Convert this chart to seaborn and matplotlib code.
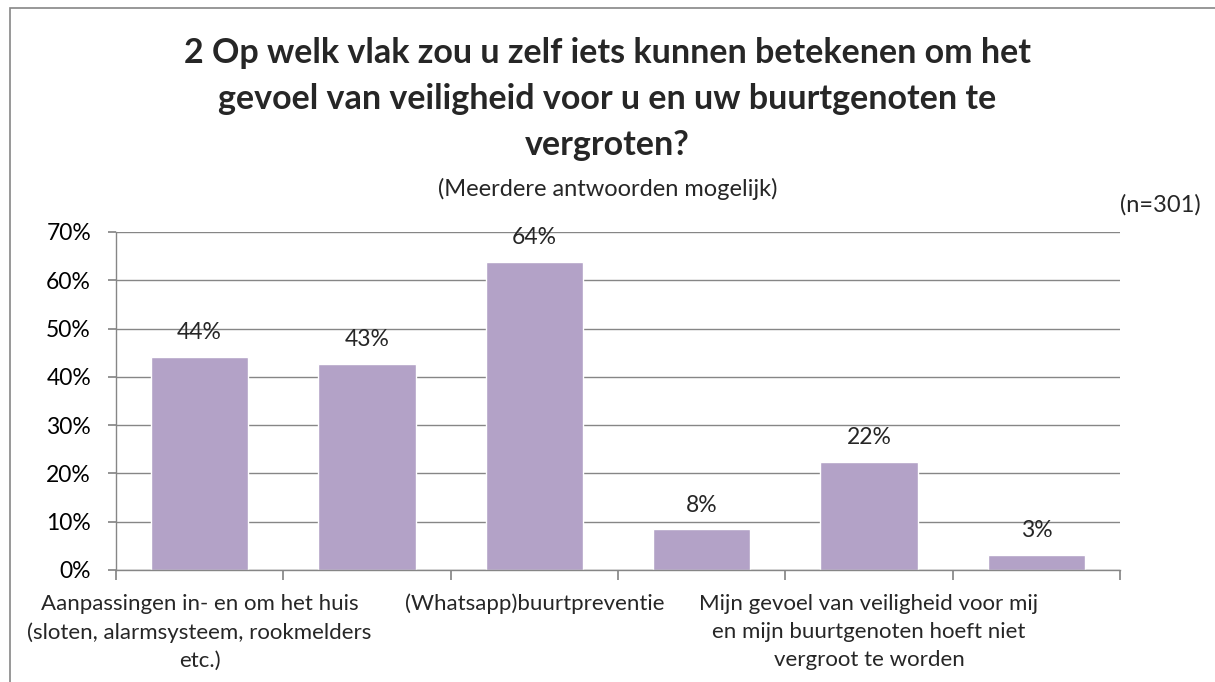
import numpy as np
import pandas as pd
import seaborn as sns
import matplotlib.pyplot as plt
from matplotlib.patches import Rectangle

# labels shown on the axis (Excel hides every other one)
labels = ["Aanpassingen in- en om het huis\n(sloten, alarmsysteem, rookmelders\netc.)",
          "",
          "(Whatsapp)buurtpreventie",
          "",
          "Mijn gevoel van veiligheid voor mij\nen mijn buurtgenoten hoeft niet\nvergroot te worden",
          ""]
values = [44.2, 42.6, 63.8, 8.4, 22.3, 3.1]
value_labels = ["44%", "43%", "64%", "8%", "22%", "3%"]
yticks = [0, 10, 20, 30, 40, 50, 60, 70]

sns.set_theme(style="white")
plt.rcParams['font.family'] = ['Lato', 'DejaVu Sans']

df = pd.DataFrame({"pos": np.arange(len(values)), "value": values})

fig = plt.figure(figsize=(12.15, 6.82), dpi=100)
ax = fig.add_axes([116 / 1215, 1 - 570 / 682, (1120 - 116) / 1215, (570 - 232) / 682])

sns.barplot(data=df, x="pos", y="value", color="#B3A2C7", saturation=1,
            width=0.58, ax=ax)

ax.set_ylim(0, 70)
ax.set_xlim(-0.5, len(values) - 0.5)
ax.set_yticks(yticks)
ax.set_yticklabels([f"{t}%" for t in yticks], fontsize=16.5, color="#000000")
ax.yaxis.grid(True, color="#868686", linewidth=1)
ax.set_axisbelow(True)

# tick marks at category boundaries, labels at centres
ax.set_xticks(np.arange(len(values) + 1) - 0.5)
ax.set_xticklabels([])
ax.set_xticks(np.arange(len(values)), minor=True)
ax.set_xticklabels(labels, minor=True, fontsize=16, linespacing=1.5, va="top")
ax.tick_params(axis="x", which="major", length=7, color="#868686", direction="out",
               bottom=True)
ax.tick_params(axis="x", which="minor", length=0, pad=17)
ax.tick_params(axis="y", length=6, color="#868686", direction="out", left=True, pad=12)

for side in ["top", "right"]:
    ax.spines[side].set_visible(False)
for side in ["left", "bottom"]:
    ax.spines[side].set_color("#868686")
    ax.spines[side].set_linewidth(1)
ax.set_xlabel("")
ax.set_ylabel("")

for p, v, t in zip(df["pos"], values, value_labels):
    ax.annotate(t, (p, v), xytext=(0, 10), textcoords="offset points",
                ha="center", va="bottom", fontsize=16.5)

fig.text(0.5, 1 - 99 / 682,
         "2 Op welk vlak zou u zelf iets kunnen betekenen om het\n"
         "gevoel van veiligheid voor u en uw buurtgenoten te\nvergroten?",
         ha="center", va="center", fontsize=24.5, fontweight="bold", linespacing=1.55)
fig.text(0.5, 1 - 189 / 682, "(Meerdere antwoorden mogelijk)",
         ha="center", va="center", fontsize=17)
fig.text(1160 / 1215, 1 - 205 / 682, "(n=301)", ha="center", va="center", fontsize=17)

fig.patches.append(Rectangle((10 / 1215, -0.01), 1.2, 1 - 8 / 682 + 0.01,
                             transform=fig.transFigure, fill=False,
                             edgecolor="#868686", linewidth=1.2))

fig.savefig("out.png", dpi=100)
